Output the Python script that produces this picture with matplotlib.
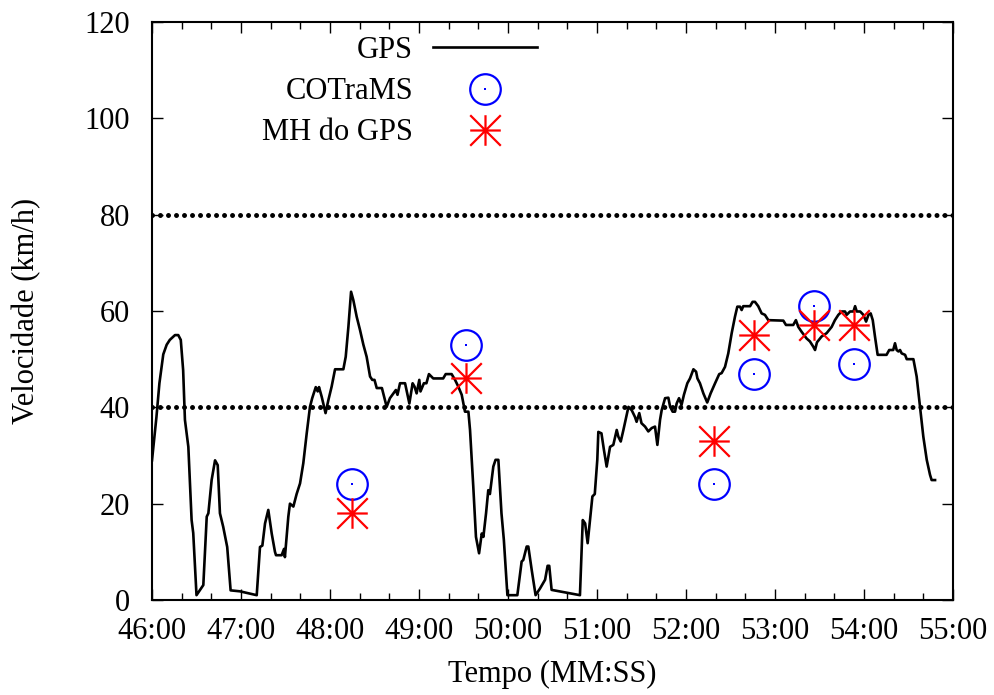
import matplotlib
matplotlib.use("Agg")
import matplotlib.pyplot as plt
from matplotlib.path import Path
from matplotlib.ticker import MultipleLocator, FuncFormatter
from matplotlib.legend_handler import HandlerTuple

plt.rcParams['font.family'] = ['Liberation Serif', 'DejaVu Serif']

T0 = 46 * 60  # 46:00 in seconds

# GPS speed trace: seconds after 46:00, km/h
gps_t = [0, 3, 5, 7.6, 9.9, 12, 15.5, 17.7, 19.4, 21, 22.2, 24.5, 26.7, 27.8, 30,
         34.6, 36.9, 38, 40.2, 42.5, 44.3, 45.8, 48, 50.7, 53, 59.3, 70.6, 72.8,
         74.4, 76.2, 78.4, 80.7, 82.9, 83.6, 87.4, 89, 89.6, 91.9, 93, 95.3, 97.5,
         99.8, 102, 104.3, 106.5, 108, 110.4, 111.7, 112.6, 114.4, 117, 118.9,
         121.1, 123.4, 129, 130.6, 132.4, 134.2, 135.7, 138, 140.2, 142.5, 144.7,
         147, 148.5, 150, 151.5, 155, 158.2, 160.4, 162.7, 164.4, 165.5, 167.2,
         170.6, 173.5, 175.7, 177, 178.4, 180.2, 181, 183.3, 185, 186.7, 189.6,
         196.3, 198, 202, 204.3, 206.5, 208.8, 211, 213.3, 214.4, 216.6, 218.4,
         220.5, 222.3, 223.4, 225.2, 226.7, 227.8, 230.1, 231.6, 233.5, 235.6,
         237.2, 239.6, 246.3, 249.2, 250.3, 252.6, 253.7, 256, 258.6, 261.6, 265,
         266.7, 267.8, 269.4, 288.5, 290.4, 292, 293.7, 295.3, 296.9, 298.5,
         300.2, 300.9, 303, 304.7, 306.5, 308.8, 311, 313.3, 314.4, 316, 317.8,
         321.2, 323.4, 325.6, 326.7, 328.5, 330, 332.4, 334.6, 336.9, 339.1,
         340.7, 342.5, 343.6, 345.9, 348.1, 349.3, 351, 352.6, 353.7, 355.3, 357,
         358.6, 360.9, 362.7, 365, 366.8, 367.7, 369.4, 371.7, 374.3, 376.6,
         379.6, 382.4, 384, 386.3, 388.5, 390.8, 393, 394.6, 396.4, 397.5, 398.6,
         403.2, 404.9, 406.5, 408.7, 411, 413.2, 415.5, 425.6, 427.4, 432.3,
         434.1, 435.7, 437.9, 441.3, 443.5, 445.8, 447, 448.3, 451.4, 454.8,
         458.2, 460.4, 462.7, 465, 467.2, 468.3, 470.6, 472.9, 474, 475.1, 477.4,
         479.6, 481.4, 483, 484.5, 485.9, 487.4, 489.2, 495.2, 497, 499.7, 500.9,
         502, 503.2, 504.3, 505.4, 507.7, 508.8, 513.3, 515.5, 517.8, 520, 522.3,
         524.5, 525.6, 527.9]
gps_v = [29, 38, 45, 51, 53, 54, 55, 55, 54, 47.7, 37.4, 31.8, 16.6, 13.9, 1,
         3.1, 17.3, 18, 24.9, 29, 28, 18, 15.2, 11, 2, 1.8, 1, 11,
         11.3, 15.9, 18.7, 13.8, 10, 9.3, 9.3, 10.6, 8.9, 17.3, 20, 19.4, 22,
         24.2, 28.4, 34.6, 40.1, 41.9, 44.2, 43.3, 44.2, 42.2, 38.8, 41.5,
         44.3, 47.9, 47.9, 50.5, 56.7, 64, 62.3, 58.8, 56.1, 53, 50.5,
         46.4, 45.7, 45.7, 44, 44, 40.1, 41.9, 42.9, 43.6, 42.6, 45,
         45, 40.8, 45, 44.3, 42.9, 45.7, 43.3, 45, 45, 46.9, 46,
         46, 46.9, 46.9, 45.7, 44.3, 42.6, 39.1, 39.1, 35.3, 23.5, 13.1,
         9.7, 13.8, 13.1, 18, 22.8, 22, 27.7, 29.1, 29.1, 18,
         12.5, 1, 1, 8, 8.3, 11.1, 11.1, 6.2, 1, 2.4, 4.2,
         7.1, 7.1, 2.1, 1, 16.6, 15.9, 11.8, 16.6, 21.5, 22,
         29.1, 34.9, 34.6, 31.1, 27.7, 31.8, 32.2, 35.3, 33.9, 32.9, 35.3,
         40.1, 39.4, 38, 37, 38.8, 36.7, 36, 35, 35.7, 36,
         32.2, 37.4, 39.4, 41.9, 42, 40.1, 39.1, 39.1, 40.8, 41.9, 40.5,
         42.6, 45, 46, 47.9, 47.4, 46, 45, 42.9, 41, 42.9,
         45, 46.9, 47.1, 48.4, 51.2, 55.4, 58.8, 60.9, 60.9, 60.2, 61,
         61, 61.9, 61.9, 61, 59.5, 59.2, 58.1, 58, 57.1, 57.1,
         58.1, 56.7, 55.7, 54.3, 53.7, 52.6, 51.9, 53.5, 54.7, 55.4,
         56.7, 58.1, 59.2, 59.9, 59.9, 59.2, 59.9, 59.9, 61, 59.9, 59.9,
         59.2, 57.8, 59.2, 59.5, 58.1, 54.7, 50.9, 50.9, 51.9, 51.9, 53.3,
         51.9, 51.6, 51.9, 51.2, 50.9, 50, 50, 46.4, 40.1, 33.9, 29.1,
         26, 24.9, 24.9]

# Point estimates: seconds after 46:00, km/h
est_t = [135, 212, 379, 406, 446, 473]
cotrams_v = [24, 53, 24, 47, 61, 49]
mh_v = [18, 46, 33, 55, 57, 57]

# Reference speed thresholds (km/h)
limits = [40, 80]

fig = plt.figure(figsize=(9.94, 6.95), dpi=100)
ax = fig.add_axes([152 / 994, 1 - 600 / 695, 801 / 994, 578 / 695])

for lim in limits:
    ax.axhline(lim, color='black', lw=3.6, linestyle=(0, (0.001, 1.6)),
               dash_capstyle='round', zorder=1)

gx = [T0 + t for t in gps_t]
ex = [T0 + t for t in est_t]

line_gps, = ax.plot(gx, gps_v, color='black', lw=1.9, zorder=2)

circ, = ax.plot(ex, cotrams_v, linestyle='none', marker='o', markersize=22,
                markerfacecolor='none', markeredgecolor='#0000ff',
                markeredgewidth=1.6, zorder=3)
dot, = ax.plot(ex, cotrams_v, linestyle='none', marker='s', markersize=1.5,
               color='#0000ff', markeredgewidth=0, zorder=3)

# '+' overlaid with 'x'
aster = Path([(-1, 0), (1, 0), (0, -1), (0, 1), (-1, -1), (1, 1), (-1, 1), (1, -1)],
             [Path.MOVETO, Path.LINETO] * 4)
star, = ax.plot(ex, mh_v, linestyle='none', marker=aster, markersize=22,
                markerfacecolor='none', markeredgecolor='#ff0000',
                markeredgewidth=1.6, zorder=4)

ax.set_xlim(T0, T0 + 540)
ax.set_ylim(0, 120)
ax.xaxis.set_major_locator(MultipleLocator(60))
ax.xaxis.set_minor_locator(MultipleLocator(20))
ax.yaxis.set_major_locator(MultipleLocator(20))
ax.xaxis.set_major_formatter(FuncFormatter(lambda v, p: f"{int(v) // 60:02d}:{int(v) % 60:02d}"))

ax.tick_params(which='both', direction='in', top=True, right=True, labelsize=22,
               width=1.0)
ax.tick_params(which='major', length=8)
ax.tick_params(which='minor', length=5)
ax.tick_params(axis='x', pad=12)
ax.tick_params(axis='y', pad=16)
for s in ax.spines.values():
    s.set_linewidth(1.5)

ax.set_xlabel('Tempo (MM:SS)', fontsize=22, labelpad=10)
ax.set_ylabel('Velocidade (km/h)', fontsize=22, labelpad=31)

leg = ax.legend([line_gps, (circ, dot), star], ['GPS', 'COTraMS', 'MH do GPS'],
                handler_map={tuple: HandlerTuple(ndivide=1)},
                loc='upper right', bbox_to_anchor=(537 / 994, 1 - 36 / 695),
                bbox_transform=fig.transFigure, markerfirst=False, frameon=False,
                fontsize=22, handlelength=3.4, handletextpad=0.65,
                labelspacing=0.4, borderpad=0, borderaxespad=0)

fig.savefig('out.png', dpi=100)
